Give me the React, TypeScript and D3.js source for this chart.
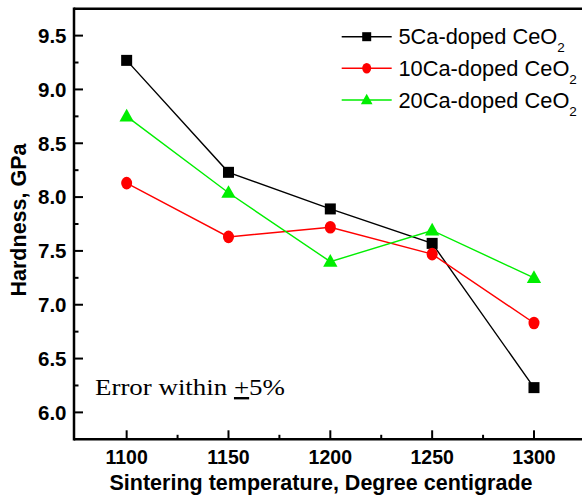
import React from "react";
import * as d3 from "d3";

const temperatures = [1100, 1150, 1200, 1250, 1300];
const ca5 = [9.27, 8.23, 7.89, 7.57, 6.23];
const ca10 = [8.13, 7.63, 7.72, 7.47, 6.83];
const ca20 = [8.75, 8.04, 7.4, 7.69, 7.25];
const seriesNames = ["5Ca-doped CeO", "10Ca-doped CeO", "20Ca-doped CeO"];
const xTicks = [1100, 1150, 1200, 1250, 1300];
const xMinor = [1125, 1175, 1225, 1275];
const yTicks = [6.0, 6.5, 7.0, 7.5, 8.0, 8.5, 9.0, 9.5];
const yMinor = [6.25, 6.75, 7.25, 7.75, 8.25, 8.75, 9.25];

const W = 582;
const H = 497;
const left = 74;
const top = 8.7;
const bottom = 439.3;

const x = d3.scaleLinear().domain([1074, 1325]).range([73.7, 584.9]);
const y = d3.scaleLinear().domain([5.75, 9.75]).range([bottom, top]);

const colors = ["#000000", "#ff0000", "#00ee00"];
const shapes = ["square", "circle", "triangle"];

function Marker({ shape, cx, cy, color, s }: { shape: string; cx: number; cy: number; color: string; s: number }) {
  if (shape === "square") {
    return <rect x={cx - s / 2} y={cy - s / 2} width={s} height={s} fill={color} />;
  }
  if (shape === "circle") {
    return <ellipse cx={cx} cy={cy} rx={s / 2} ry={s / 2 + 0.8} fill={color} />;
  }
  const w = s * 1.3;
  const h = s * 1.15;
  return (
    <path
      d={`M${cx},${cy - h * 0.6} L${cx + w / 2},${cy + h * 0.4} L${cx - w / 2},${cy + h * 0.4} Z`}
      fill={color}
    />
  );
}

export default function App() {
  const data = [ca5, ca10, ca20];
  const line = d3
    .line<number>()
    .x((_, i) => x(temperatures[i]))
    .y((d) => y(d));
  const font = "'Liberation Sans', Arial, sans-serif";
  return (
    <svg
      width={W}
      height={H}
      style={{ position: "absolute", left: 0, top: 0, background: "#fff" }}
    >
      {/* series */}
      {data.map((vals, si) => (
        <g key={si}>
          <path d={line(vals) || ""} fill="none" stroke={colors[si]} strokeWidth={1.4} />
          {vals.map((v, i) => (
            <Marker key={i} shape={shapes[si]} cx={x(temperatures[i])} cy={y(v)} color={colors[si]} s={11} />
          ))}
        </g>
      ))}

      {/* frame */}
      <line x1={left} y1={top} x2={W + 2} y2={top} stroke="#000" strokeWidth={2.5} />
      <line x1={left} y1={top - 1.2} x2={left} y2={bottom + 1.2} stroke="#000" strokeWidth={2.5} />
      <line x1={left} y1={bottom} x2={W + 2} y2={bottom} stroke="#000" strokeWidth={2.5} />

      {/* x ticks */}
      {xTicks.map((t) => (
        <g key={t}>
          <line x1={x(t)} x2={x(t)} y1={bottom} y2={bottom - 9} stroke="#000" strokeWidth={2} />
          <text
            x={x(t)}
            y={463.5}
            textAnchor="middle"
            fontFamily={font}
            fontWeight="bold"
            fontSize={19.5}
          >
            {t}
          </text>
        </g>
      ))}
      {xMinor.map((t) => (
        <line key={t} x1={x(t)} x2={x(t)} y1={bottom} y2={bottom - 4.5} stroke="#000" strokeWidth={2} />
      ))}

      {/* y ticks */}
      {yTicks.map((t) => (
        <g key={t}>
          <line x1={left} x2={left + 9} y1={y(t)} y2={y(t)} stroke="#000" strokeWidth={2} />
          <text
            x={66.5}
            y={y(t) + 7.3}
            textAnchor="end"
            fontFamily={font}
            fontWeight="bold"
            fontSize={20.5}
          >
            {t.toFixed(1)}
          </text>
        </g>
      ))}
      {yMinor.map((t) => (
        <line key={t} x1={left} x2={left + 4.5} y1={y(t)} y2={y(t)} stroke="#000" strokeWidth={2} />
      ))}

      {/* axis titles */}
      <text
        x={321}
        y={490}
        textAnchor="middle"
        fontFamily={font}
        fontWeight="bold"
        fontSize={21.5}
      >
        Sintering temperature, Degree centigrade
      </text>
      <text
        transform={`translate(26,220) rotate(-90)`}
        textAnchor="middle"
        fontFamily={font}
        fontWeight="bold"
        fontSize={21.5}
      >
        Hardness, GPa
      </text>

      {/* annotation */}
      <text
        x={95}
        y={395}
        fontFamily="'Liberation Serif', 'Times New Roman', serif"
        fontSize={24}
        textLength={190}
        lengthAdjust="spacingAndGlyphs"
      >
        Error within <tspan textDecoration="underline">+</tspan>5%
      </text>

      {/* legend */}
      {seriesNames.map((name, i) => {
        const ly = [36.7, 68.3, 100][i];
        return (
          <g key={name}>
            <line x1={341.7} x2={391.7} y1={ly} y2={ly} stroke={colors[i]} strokeWidth={1.5} />
            <Marker shape={shapes[i]} cx={366.7} cy={ly} color={colors[i]} s={9} />
            <text x={398.5} y={ly + 7.6} fontFamily={font} fontSize={21.8}>
              {name}
              <tspan fontSize={13.5} dy={8}>2</tspan>
            </text>
          </g>
        );
      })}
    </svg>
  );
}
